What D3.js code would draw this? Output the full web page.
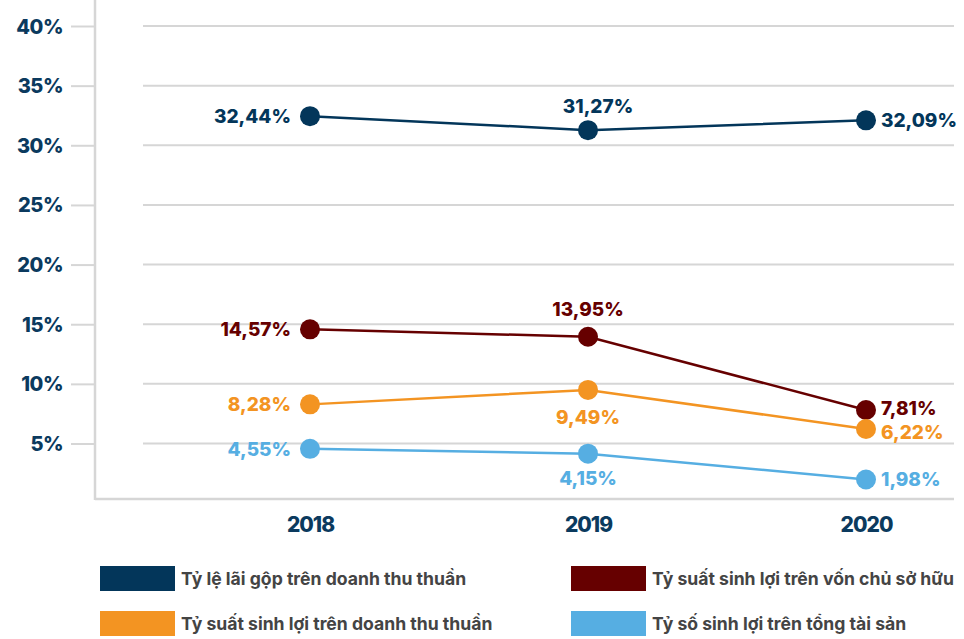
<!DOCTYPE html>
<html><head><meta charset="utf-8">
<script src="https://cdn.jsdelivr.net/npm/d3@7"></script>
<style>body{margin:0;background:#fff}svg{display:block}text{font-family:Inter,"Open Sans",sans-serif}</style>
</head><body>
<svg id="c" width="964" height="639"></svg>
<script>
const years = ["2018", "2019", "2020"];
const yTicks = [5, 10, 15, 20, 25, 30, 35, 40];
const seriesNames = [
  "Tỷ lệ lãi gộp trên doanh thu thuần",
  "Tỷ suất sinh lợi trên vốn chủ sở hữu",
  "Tỷ suất sinh lợi trên doanh thu thuần",
  "Tỷ số sinh lợi trên tổng tài sản"
];
const grossMargin = [32.44, 31.27, 32.09];
const roe = [14.57, 13.95, 7.81];
const ros = [8.28, 9.49, 6.22];
const roa = [4.55, 4.15, 1.98];
const colors = ["#03365a", "#660000", "#f39422", "#56aee2"];
// label placement for the middle point
const midPlacement = ["above", "above", "below", "below"];

const series = [grossMargin, roe, ros, roa].map((v, i) => ({name: seriesNames[i], values: v, color: colors[i], mid: midPlacement[i], idx: i}));

const svg = d3.select("#c");
const x = d3.scalePoint().domain(years).range([310, 866]);
const y = d3.scaleLinear().domain([5, 40]).range([443.5, 26]);
const axisColor = "#d6d6d6";
const navy = "#0b3a5e";

// gridlines
svg.append("g").selectAll("line").data(yTicks).join("line")
  .attr("x1", 143).attr("x2", 954)
  .attr("y1", d => y(d)).attr("y2", d => y(d))
  .attr("stroke", axisColor).attr("stroke-width", 2);

// y axis
const yAxis = d3.axisLeft(y).tickValues(yTicks).tickSize(24).tickPadding(8).tickFormat(d => d + "%");
const gy = svg.append("g").attr("transform", "translate(95,0)").call(yAxis);
gy.select(".domain").remove();
gy.selectAll(".tick line").attr("stroke", axisColor).attr("stroke-width", 2);
gy.selectAll(".tick text").attr("fill", navy).attr("font-size", 20).attr("font-weight", 800)
  .attr("letter-spacing", -0.5).attr("dy", "0.35em");
svg.append("line").attr("x1", 95).attr("x2", 95).attr("y1", 0).attr("y2", 500)
  .attr("stroke", axisColor).attr("stroke-width", 2.5);

// x axis
const xAxis = d3.axisBottom(x).tickSize(0).tickPadding(22);
const gx = svg.append("g").attr("transform", "translate(0,499)").call(xAxis);
gx.select(".domain").remove();
svg.append("line").attr("x1", 95).attr("x2", 954).attr("y1", 499).attr("y2", 499)
  .attr("stroke", axisColor).attr("stroke-width", 2.5);
gx.selectAll(".tick text").attr("fill", navy).attr("font-size", 21).attr("font-weight", 800)
  .attr("letter-spacing", -1).attr("dy", "0.5em");

const line = d3.line().x((d, i) => x(years[i])).y(d => y(d));
const fmt = v => v.toFixed(2).replace(".", ",") + "%";
// small vertical nudges for crowded labels at the last point
const endNudge = [0, -2, 3, 0];
const midOffset = [-24, -28, 27, 25];

series.forEach(s => {
  const g = svg.append("g");
  g.append("path").attr("d", line(s.values)).attr("fill", "none")
    .attr("stroke", s.color).attr("stroke-width", 2.5);
  g.selectAll("circle").data(s.values).join("circle")
    .attr("cx", (d, i) => x(years[i])).attr("cy", d => y(d)).attr("r", 10)
    .attr("fill", s.color);
  g.selectAll("text").data(s.values).join("text")
    .attr("x", (d, i) => i === 0 ? x(years[i]) - 19 : i === 2 ? x(years[i]) + 15 : x(years[i]) + (s.idx === 0 ? 10 : 0))
    .attr("y", (d, i) => i === 1 ? y(d) + midOffset[s.idx] : i === 2 ? y(d) + endNudge[s.idx] : y(d))
    .attr("dy", "0.36em")
    .attr("text-anchor", (d, i) => i === 0 ? "end" : i === 2 ? "start" : "middle")
    .attr("fill", s.color).attr("font-size", 19).attr("font-weight", 800)
    .text(fmt);
});

// legend
const legendPos = [[100, 566], [571, 566], [100, 611], [571, 611]];
const lg = svg.append("g").selectAll("g").data(series).join("g")
  .attr("transform", (d, i) => `translate(${legendPos[i][0]},${legendPos[i][1]})`);
lg.append("rect").attr("width", 75).attr("height", 25).attr("fill", d => d.color);
lg.append("text").attr("x", 81).attr("y", 13).attr("dy", "0.36em")
  .attr("fill", "#444").attr("font-size", 17.6).attr("font-weight", 700)
  .text(d => d.name);
</script>
</body></html>
